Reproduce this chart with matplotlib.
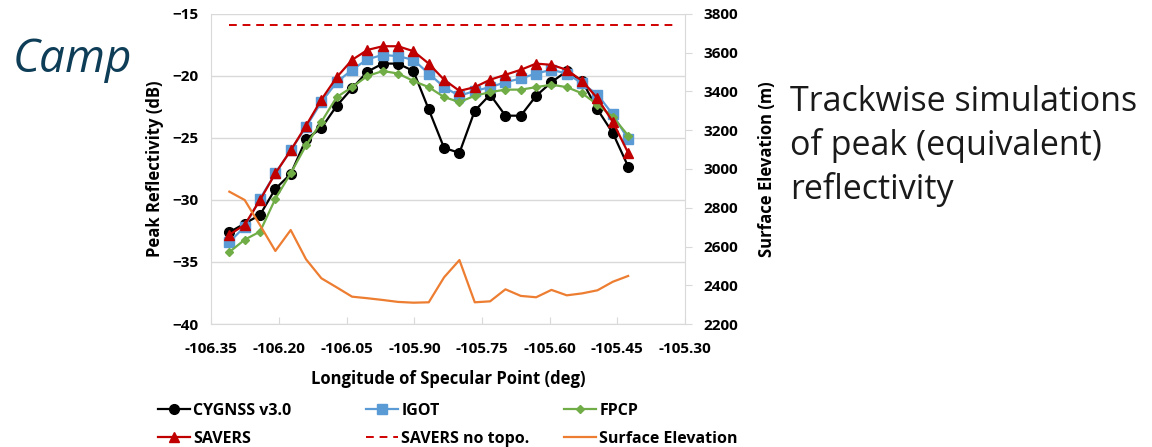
import matplotlib.pyplot as plt
from matplotlib.lines import Line2D
from matplotlib.patches import Rectangle

# Longitude of specular point (deg)
lon = [-106.310, -106.276, -106.242, -106.208, -106.174, -106.140, -106.106,
       -106.072, -106.038, -106.004, -105.970, -105.936, -105.902, -105.868,
       -105.834, -105.800, -105.766, -105.732, -105.698, -105.664, -105.630,
       -105.596, -105.562, -105.528, -105.494, -105.460, -105.426]

# Peak reflectivity (dB)
cygnss = [-32.6, -31.9, -31.2, -29.1, -27.9, -25.1, -24.2, -22.4, -21.0, -19.65,
          -19.0, -19.0, -19.6, -22.7, -25.8, -26.2, -22.8, -21.5, -23.2, -23.2,
          -21.6, -20.5, -19.6, -20.4, -22.7, -24.6, -27.3]
igot = [-33.4, -32.15, -29.9, -27.85, -26.0, -24.1, -22.1, -20.5, -19.5, -18.65,
        -18.3, -18.4, -18.7, -19.8, -20.9, -21.6, -21.2, -20.9, -20.5, -20.2,
        -19.8, -19.5, -19.8, -20.6, -21.5, -23.1, -25.1]
fpcp = [-34.2, -33.2, -32.55, -29.9, -27.85, -25.6, -23.7, -21.7, -20.9, -20.0,
        -19.6, -19.8, -20.4, -20.9, -21.7, -22.1, -21.6, -21.3, -21.1, -21.1,
        -20.9, -20.7, -20.9, -21.4, -22.3, -23.3, -24.8]
savers = [-32.8, -32.0, -30.0, -27.85, -26.0, -24.0, -21.9, -20.1, -18.7, -17.9,
          -17.6, -17.6, -18.0, -19.0, -20.3, -21.2, -20.9, -20.3, -19.9, -19.5,
          -19.0, -19.1, -19.5, -20.4, -21.8, -23.7, -26.2]
notopo_lon = [-106.310, -105.325]
notopo = [-15.9, -15.9]

# Surface elevation (m)
elev = [2883, 2840, 2710, 2577, 2685, 2534, 2436, 2389, 2341, 2333, 2324, 2314,
        2310, 2312, 2441, 2530, 2312, 2317, 2379, 2345, 2338, 2376, 2348, 2358,
        2374, 2418, 2448]

xticks = [-106.35, -106.20, -106.05, -105.90, -105.75, -105.60, -105.45, -105.30]

plt.rcParams['font.family'] = ['Open Sans', 'DejaVu Sans']
plt.rcParams['font.weight'] = 'bold'

fig = plt.figure(figsize=(11.52, 4.47), dpi=100)

# slide title text, partly hidden behind the chart
fig.text(13 / 1152, 1 - 60 / 447, 'Camp', fontsize=33, style='italic',
         fontweight='normal', color='#0e3d57', va='center', ha='left',
         zorder=0.5)
fig.patches.append(Rectangle((130 / 1152, 0), (770 - 130) / 1152, 1,
                             transform=fig.transFigure, facecolor='white',
                             edgecolor='none', zorder=1))

ax = fig.add_axes([211.3 / 1152, 1 - 324 / 447, 473.7 / 1152, 310 / 447])
ax.set_zorder(2)
ax.set_facecolor('none')

ax.plot(lon, cygnss, color='black', marker='o', markersize=7, lw=1.6)
ax.plot(lon, igot, color='#5b9bd5', marker='s', markersize=6.5, lw=1.6)
ax.plot(lon, fpcp, color='#70ad47', marker='D', markersize=4.5, lw=1.6)
ax.plot(lon, savers, color='#c00000', marker='^', markersize=7, lw=1.6)
ax.plot(notopo_lon, notopo, color='#d00000', ls=(0, (4, 3)), lw=1.4)

ax.set_xlim(-106.35, -105.30)
ax.set_ylim(-40, -15)
ax.set_xticks(xticks)
ax.set_xticklabels(['%.2f' % t for t in xticks])
ax.set_yticks([-40, -35, -30, -25, -20, -15])
ax.grid(axis='y', color='#d9d9d9', lw=1)
ax.set_axisbelow(True)
for s in ['top', 'right']:
    ax.spines[s].set_visible(False)
for s in ['left', 'bottom']:
    ax.spines[s].set_color('#d9d9d9')
ax.tick_params(axis='x', direction='in', length=5, color='#d9d9d9',
               labelsize=11, pad=13)
ax.tick_params(axis='y', length=0, labelsize=11, pad=9)
ax.set_xlabel('Longitude of Specular Point (deg)', fontsize=12, fontweight='bold')
ax.set_ylabel('Peak Reflectivity (dB)', fontsize=12, fontweight='bold')
ax.xaxis.set_label_coords(0.5, -0.15)
ax.yaxis.set_label_coords(-0.1, 0.5)

ax2 = ax.twinx()
ax2.set_zorder(3)
ax2.plot(lon, elev, color='#ed7d31', lw=1.6)
ax2.set_ylim(2200, 3800)
ax2.set_yticks(range(2200, 3801, 200))
for s in ['top', 'left', 'bottom']:
    ax2.spines[s].set_visible(False)
ax2.spines['right'].set_color('#d9d9d9')
ax2.tick_params(axis='y', direction='out', length=5, color='#d9d9d9',
                labelsize=11, pad=8)
ax2.set_ylabel('Surface Elevation (m)', fontsize=12, fontweight='bold')
ax2.yaxis.set_label_coords(1.155, 0.5)

for lab in ax.get_xticklabels() + ax.get_yticklabels() + ax2.get_yticklabels():
    lab.set_fontweight('bold')

fig.text(790 / 1152, 1 - 146 / 447,
         'Trackwise simulations\nof peak (equivalent)\nreflectivity',
         fontsize=24.5, fontweight='normal', color='#1a1a1a', va='center',
         ha='left', linespacing=1.35)

# legend: three columns placed like the original
cols = [
    [(Line2D([], [], color='black', marker='o', markersize=7, lw=1.6), 'CYGNSS v3.0'),
     (Line2D([], [], color='#c00000', marker='^', markersize=7, lw=1.6), 'SAVERS')],
    [(Line2D([], [], color='#5b9bd5', marker='s', markersize=6.5, lw=1.6), 'IGOT'),
     (Line2D([], [], color='#d00000', ls=(0, (4, 3)), lw=1.4), 'SAVERS no topo.')],
    [(Line2D([], [], color='#70ad47', marker='D', markersize=4.5, lw=1.6), 'FPCP'),
     (Line2D([], [], color='#ed7d31', lw=1.6), 'Surface Elevation')],
]
for x0, col in zip([158, 366, 564], cols):
    fig.legend([h for h, _ in col], [t for _, t in col],
               loc='upper left', bbox_to_anchor=(x0 / 1152, 1 - 403 / 447),
               frameon=False, prop={'size': 11.5, 'weight': 'bold'},
               handlelength=2.0, handletextpad=0.2, labelspacing=0.75,
               borderpad=0, borderaxespad=0)

fig.savefig('out.png', dpi=100)
